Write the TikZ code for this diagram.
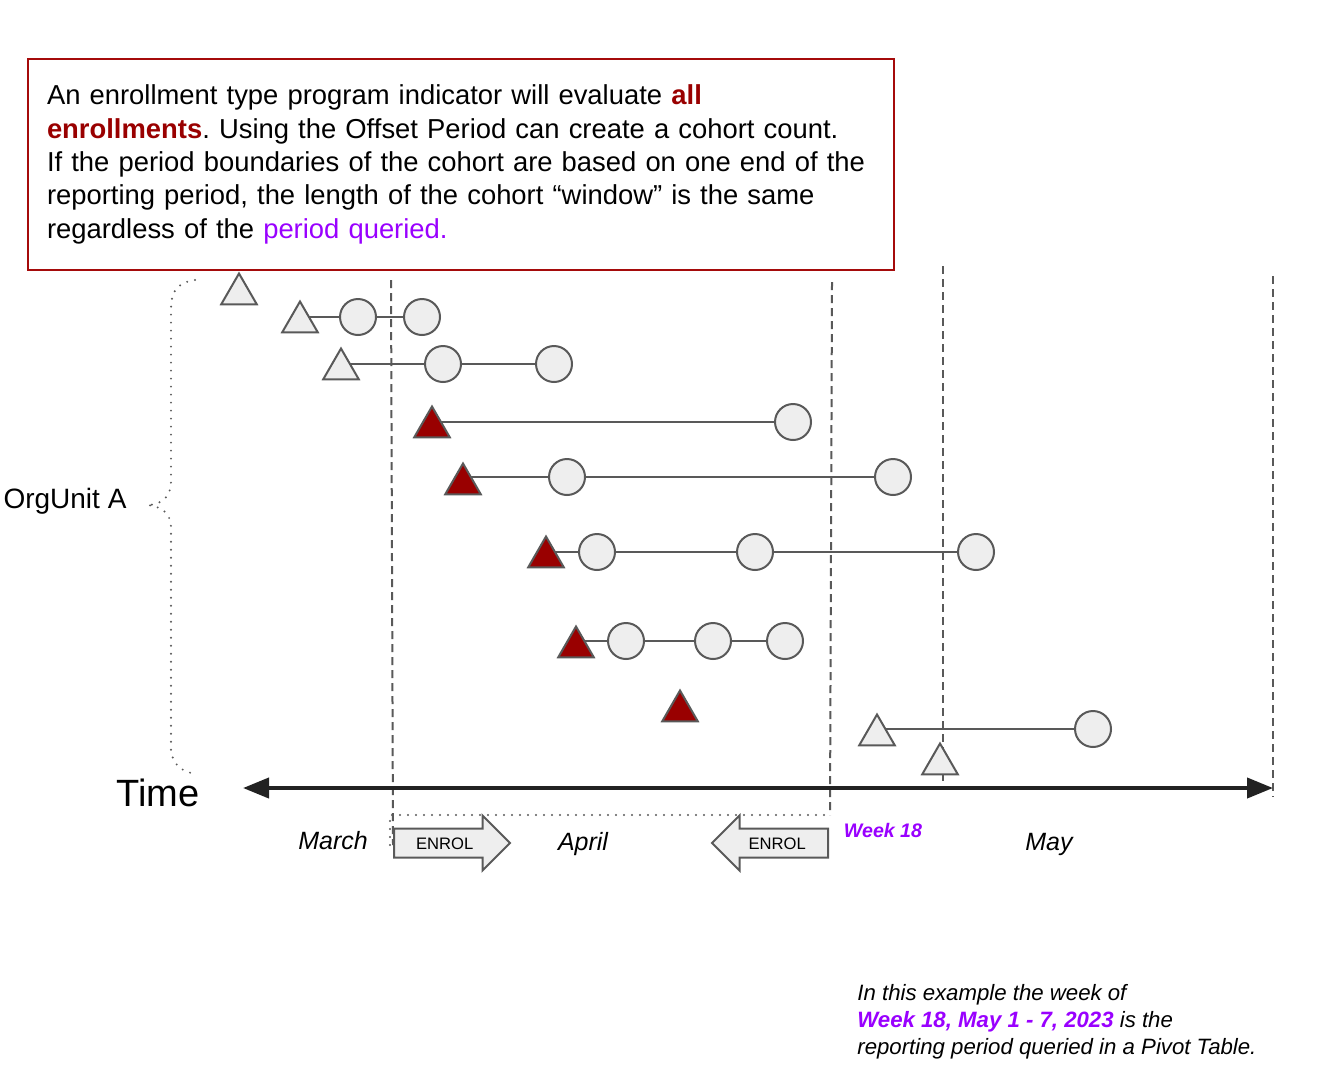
\documentclass[tikz,border=0pt]{standalone}
\usepackage{fontspec}
\setmainfont{Liberation Sans}
\frenchspacing
\usetikzlibrary{arrows.meta,shapes.geometric,shapes.arrows,backgrounds}
\definecolor{dkred}{HTML}{990000}
\definecolor{boxred}{HTML}{A50B0B}
\definecolor{queryviolet}{HTML}{9900FF}
\definecolor{shapegray}{HTML}{595959}
\definecolor{shapefill}{HTML}{EEEEEE}
\definecolor{axisblack}{HTML}{222222}

\begin{document}
\begin{tikzpicture}[x=0.5pt,y=-0.5pt,
	event node/.style={circle,draw=shapegray,fill=shapefill,line width=1pt,minimum size=18pt,inner sep=0pt},
	start node/.style={regular polygon,regular polygon sides=3,draw=shapegray,fill=shapefill,line width=1pt,minimum size=20.5pt,inner sep=0pt},
	red start/.style={start node,fill=dkred},
	link/.style={draw=shapegray,line width=1pt},
	period line/.style={draw=shapegray,line width=1pt,dash pattern=on 4pt off 2.5pt},
	brace line/.style={draw=shapegray,line width=1.1pt,line cap=round,dash pattern=on 0pt off 4pt},
	enrol node/.style={single arrow,draw=shapegray,fill=shapefill,line width=1pt,single arrow head extend=6.5pt,minimum height=58pt,text height=6pt,text depth=0pt,inner ysep=3.75pt,inner xsep=2pt,font=\fontsize{8.3}{10}\selectfont},
	month/.style={font=\fontsize{12.5}{15}\selectfont\itshape}]
	\useasboundingbox (0,0) rectangle (1320,1087);

	% explanation box
	\node[draw=boxred,line width=1pt,anchor=north west,minimum width=433pt,minimum height=105.5pt,text width=414pt,inner xsep=9.5pt,align=left,font=\fontsize{13.7}{16.65}\selectfont] (info) at (27,58)
		{An enrollment type program indicator will evaluate \textbf{\color{dkred}all}\\
		\textbf{\color{dkred}enrollments}. Using the Offset Period can create a cohort count.\\
		If the period boundaries of the cohort are based on one end of the\\
		reporting period, the length of the cohort “window” is the same\\
		regardless of the {\color{queryviolet}period queried.}};

	% enrollments
	\node[start node] (t1) at (239,294) {};
	\node[start node] (t2) at (300,322) {};
	\node[event node] (c21) at (358,317) {};
	\node[event node] (c22) at (422,317) {};
	\node[start node] (t3) at (341,369) {};
	\node[event node] (c31) at (443,364) {};
	\node[event node] (c32) at (554,364) {};
	\node[red start] (t4) at (432,427) {};
	\node[event node] (c41) at (793,422) {};
	\node[red start] (t5) at (463,484) {};
	\node[event node] (c51) at (567,477) {};
	\node[event node] (c52) at (893,477) {};
	\node[red start] (t6) at (546,557) {};
	\node[event node] (c61) at (597,552) {};
	\node[event node] (c62) at (755,552) {};
	\node[event node] (c63) at (976,552) {};
	\node[red start] (t7) at (576,647) {};
	\node[event node] (c71) at (626,641) {};
	\node[event node] (c72) at (713,641) {};
	\node[event node] (c73) at (785,641) {};
	\node[red start] (t8) at (680,711) {};
	\node[start node] (t9) at (877,735) {};
	\node[event node] (c91) at (1093,729) {};
	\node[start node] (t10) at (940,764) {};

	% period boundaries
	\coordinate (p1top) at (391,280);
	\coordinate (p1bot) at (393,845);
	\coordinate (p2top) at (832,282);
	\coordinate (p2bot) at (830,815);
	\coordinate (p3top) at (943,266);
	\coordinate (p3bot) at (943,788);
	\coordinate (p4top) at (1273,276);
	\coordinate (p4bot) at (1273,797);

	\begin{scope}[on background layer]
		\path[link]
			(t2.center |- c21) edge (c21)
			(c21) edge (c22)
			(t3.center |- c31) edge (c31)
			(c31) edge (c32)
			(t4.center |- c41) edge (c41)
			(t5.center |- c51) edge (c51)
			(c51) edge (c52)
			(t6.center |- c61) edge (c61)
			(c61) edge (c62)
			(c62) edge (c63)
			(t7.center |- c71) edge (c71)
			(c71) edge (c72)
			(c72) edge (c73)
			(t9.center |- c91) edge (c91);
		\draw[period line] (p1top) -- (p1bot);
		\draw[period line] (p2top) -- (p2bot);
		\draw[period line] (p3top) -- (p3bot);
		\draw[period line] (p4top) -- (p4bot);
	\end{scope}

	% org unit brace
	\node[font=\fontsize{14}{16}\selectfont] (org) at (65,501) {OrgUnit A};
	\draw[brace line] (195,280) .. controls (176,283) and (171,292) .. (171,310) -- (171,482)
		.. controls (171,498) and (160,505) .. (147,505)
		.. controls (160,506) and (171,512) .. (171,528) -- (171,748)
		.. controls (171,765) and (184,773) .. (197,774);

	% time axis
	\node[font=\fontsize{19}{22}\selectfont] (time) at (158,793) {Time};
	\coordinate (tstart) at (243,788);
	\coordinate (tend) at (1273,788);
	\draw[axisblack,line width=2pt,{Triangle[length=13pt,width=10pt]}-{Triangle[length=13pt,width=10pt]}] (tstart) -- (tend);

	\draw[brace line] (390,845) -- (390,815) -- (830,815);

	\node[enrol node,anchor=tail] (enrolR) at (393,843) {ENROL};
	\node[enrol node,shape border rotate=180,anchor=tail] (enrolL) at (829,843) {ENROL};

	\node[month] (march) at (333,841) {March};
	\node[month] (april) at (583,844) {April};
	\node[month] (may) at (1049,844) {May};
	\node[font=\fontsize{9.8}{12}\selectfont\bfseries\itshape,text=queryviolet] (week) at (883,830) {Week 18};

	% note
	\node[anchor=north west,inner sep=0pt,align=left,font=\fontsize{11.1}{13.5}\selectfont\itshape] (note) at (857,984)
		{In this example the week of\\
		{\bfseries\color{queryviolet}Week 18, May 1 - 7, 2023} is the\\
		reporting period queried in a Pivot Table.};
\end{tikzpicture}
\end{document}
